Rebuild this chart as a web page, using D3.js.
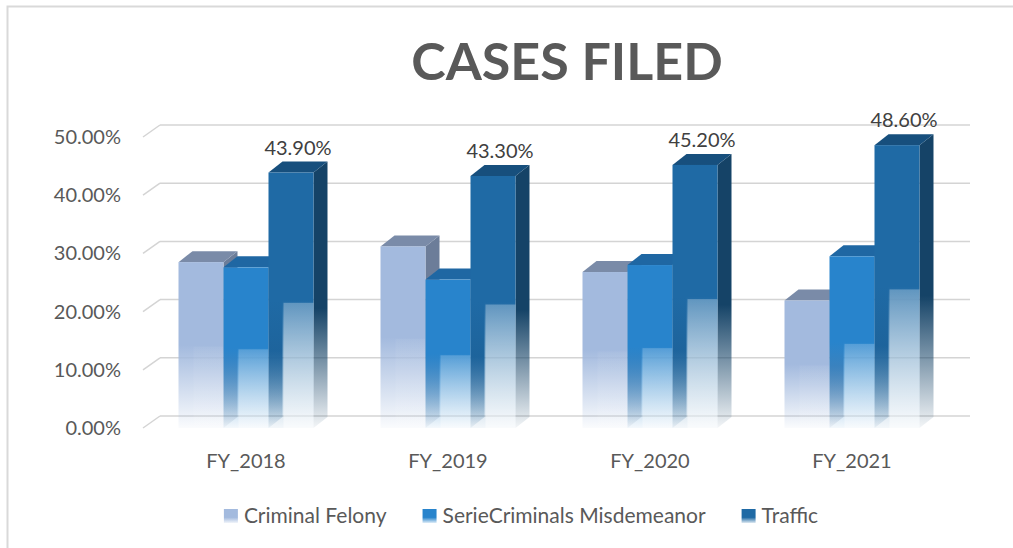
<!DOCTYPE html>
<html>
<head>
<meta charset="utf-8">
<script src="https://cdn.jsdelivr.net/npm/d3@7"></script>
<style>
  html, body { margin: 0; padding: 0; background: #fff; }
  svg { display: block; }
</style>
</head>
<body>
<svg id="chart"></svg>
<script>
// chart data
const categories = ['FY_2018', 'FY_2019', 'FY_2020', 'FY_2021'];
const seriesNames = ['Criminal Felony', 'SerieCriminals Misdemeanor', 'Traffic'];
const felony = [0.285, 0.312, 0.268, 0.219];
const misdemeanor = [0.276, 0.255, 0.280, 0.295];
const traffic = [0.439, 0.433, 0.452, 0.486];
const yTicks = [0, 0.1, 0.2, 0.3, 0.4, 0.5];

const width = 1013;
const height = 548;
const font = 'Lato, "Open Sans", sans-serif';

// face colours per series: front, top, side
const palette = [
  { front: '#a3bade', top: '#7a8ba8', side: '#6c7d99', sheen: 0.15 },
  { front: '#2884cc', top: '#1f67a3', side: '#1b5a8e', sheen: 0.7 },
  { front: '#1f6aa5', top: '#174f7d', side: '#154367', sheen: 1 }
];
const seriesValues = [felony, misdemeanor, traffic];

const svg = d3.select('#chart')
  .attr('width', width)
  .attr('height', height)
  .style('font-family', font);

// outer chart border
svg.append('rect')
  .attr('x', 7.5).attr('y', 6.5)
  .attr('width', width + 20).attr('height', height + 20)
  .attr('fill', 'none')
  .attr('stroke', '#d9d9d9')
  .attr('stroke-width', 2);

// scales (front plane)
const y = d3.scaleLinear().domain([0, 0.5]).range([428, 137]);
const x0 = d3.scaleBand().domain(categories).range([145, 953]);
const barW = 45;
const x1 = d3.scaleBand().domain(d3.range(seriesNames.length)).range([0, barW * 3]);
const depth = { dx: 14, dy: -11 };   // bar depth
const wall = { dx: 17, dy: -12 };    // floor/wall depth

// gradients
const defs = svg.append('defs');
palette.forEach((p, i) => {
  const g = defs.append('linearGradient')
    .attr('id', `front-${i}`)
    .attr('x1', 0).attr('y1', 0).attr('x2', 0).attr('y2', 1);
  g.append('stop').attr('offset', 0).attr('stop-color', p.front);
  g.append('stop').attr('offset', 0.5).attr('stop-color', p.front);
  g.append('stop').attr('offset', 1).attr('stop-color', p.front).attr('stop-opacity', 0.05);

  const s = defs.append('linearGradient')
    .attr('id', `side-${i}`)
    .attr('x1', 0).attr('y1', 0).attr('x2', 0).attr('y2', 1);
  s.append('stop').attr('offset', 0).attr('stop-color', p.side);
  s.append('stop').attr('offset', 0.55).attr('stop-color', p.side);
  s.append('stop').attr('offset', 1).attr('stop-color', p.side).attr('stop-opacity', 0.05);

  const l = defs.append('linearGradient')
    .attr('id', `legend-${i}`)
    .attr('x1', 0).attr('y1', 0).attr('x2', 0).attr('y2', 1);
  l.append('stop').attr('offset', 0).attr('stop-color', p.front);
  l.append('stop').attr('offset', 0.6).attr('stop-color', p.front);
  l.append('stop').attr('offset', 1).attr('stop-color', p.front).attr('stop-opacity', 0.15);
});
const sheen = defs.append('linearGradient')
  .attr('id', 'sheen')
  .attr('x1', 0).attr('y1', 0).attr('x2', 0).attr('y2', 1);
sheen.append('stop').attr('offset', 0).attr('stop-color', '#fff').attr('stop-opacity', 0.28);
sheen.append('stop').attr('offset', 1).attr('stop-color', '#fff').attr('stop-opacity', 0.5);

// gridlines on the back wall + short floor diagonals
const xLeft = 143;
const xRight = 953;
const grid = svg.append('g');
yTicks.forEach(t => {
  grid.append('line')
    .attr('x1', xLeft + wall.dx).attr('x2', xRight + wall.dx)
    .attr('y1', y(t) + wall.dy).attr('y2', y(t) + wall.dy)
    .attr('stroke', '#d4d4d4').attr('stroke-width', 1.5);
  grid.append('line')
    .attr('x1', xLeft).attr('x2', xLeft + wall.dx)
    .attr('y1', y(t)).attr('y2', y(t) + wall.dy)
    .attr('stroke', '#d4d4d4').attr('stroke-width', 1.5);
});

// y axis labels
svg.append('g')
  .selectAll('text')
  .data(yTicks)
  .join('text')
  .attr('x', 121)
  .attr('y', d => y(d))
  .attr('dy', '0.35em')
  .attr('text-anchor', 'end')
  .attr('font-size', 20)
  .attr('fill', '#595959')
  .text(d => d3.format('.2%')(d));

// 3D bars
const bars = svg.append('g');
categories.forEach((cat, ci) => {
  const gx = x0(cat) + x0.bandwidth() / 2 - barW * 1.5;
  seriesValues.forEach((vals, si) => {
    const v = vals[ci];
    const bx = gx + x1(si);
    const top = y(v);
    const bottom = y(0);
    const g = bars.append('g');
    // side face
    g.append('path')
      .attr('d', `M${bx + barW},${top} L${bx + barW + depth.dx},${top + depth.dy} L${bx + barW + depth.dx},${bottom + depth.dy} L${bx + barW},${bottom} Z`)
      .attr('fill', `url(#side-${si})`);
    // top face
    g.append('path')
      .attr('d', `M${bx},${top} L${bx + depth.dx},${top + depth.dy} L${bx + barW + depth.dx},${top + depth.dy} L${bx + barW},${top} Z`)
      .attr('fill', palette[si].top);
    // front face
    g.append('rect')
      .attr('x', bx).attr('y', top)
      .attr('width', barW).attr('height', bottom - top)
      .attr('fill', `url(#front-${si})`);
    // lighter lower panel
    const h = bottom - top;
    g.append('rect')
      .attr('x', bx + barW / 3).attr('y', top + h * 0.51)
      .attr('width', barW * 2 / 3).attr('height', h * 0.49)
      .attr('fill', 'url(#sheen)')
      .attr('opacity', palette[si].sheen);
  });
  // data label on Traffic
  const tx = gx + x1(2) + barW / 2 + depth.dx / 2;
  svg.append('text')
    .attr('x', tx)
    .attr('y', y(traffic[ci]) + depth.dy - 7)
    .attr('text-anchor', 'middle')
    .attr('font-size', 20)
    .attr('fill', '#404040')
    .text(d3.format('.2%')(traffic[ci]));
});

// x axis labels
svg.append('g')
  .selectAll('text')
  .data(categories)
  .join('text')
  .attr('x', d => x0(d) + x0.bandwidth() / 2)
  .attr('y', 468)
  .attr('text-anchor', 'middle')
  .attr('font-size', 20)
  .attr('fill', '#595959')
  .text(d => d);

// title
svg.append('text')
  .attr('x', 567)
  .attr('y', 80)
  .attr('text-anchor', 'middle')
  .attr('font-size', 52)
  .attr('font-weight', 'bold')
  .attr('fill', '#595959')
  .text('CASES FILED');

// legend
const legend = svg.append('g');
let lx = 0;
seriesNames.forEach((name, i) => {
  const item = legend.append('g').attr('transform', `translate(${lx},0)`);
  item.append('rect')
    .attr('x', 0).attr('y', -7)
    .attr('width', 14).attr('height', 14)
    .attr('fill', `url(#legend-${i})`);
  const t = item.append('text')
    .attr('x', 20).attr('y', 0)
    .attr('dy', '0.35em')
    .attr('font-size', 21)
    .attr('fill', '#595959')
    .text(name);
  lx += 20 + t.node().getComputedTextLength() + 36;
});
const legendW = lx - 36;
legend.attr('transform', `translate(${521 - legendW / 2},516)`);
</script>
</body>
</html>
